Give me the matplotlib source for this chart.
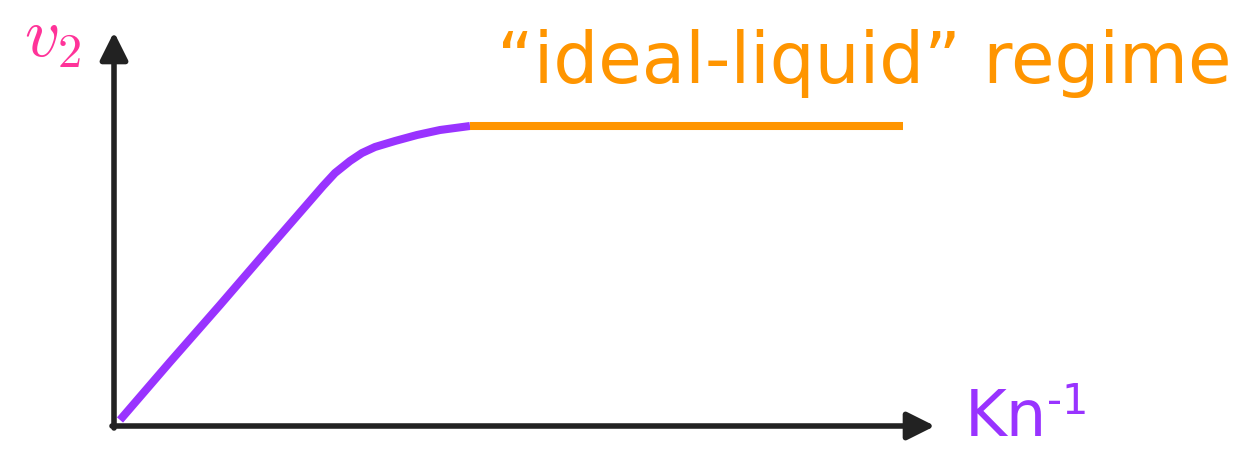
import matplotlib
matplotlib.use("Agg")
import matplotlib.pyplot as plt

# Curve data (x = Kn^-1, y = v2), arbitrary units
rise_x = [0.06, 0.56, 1.06, 1.56, 1.96, 2.09, 2.21, 2.36, 2.48, 2.61, 2.81, 3.03, 3.26, 3.56]
rise_y = [0.06, 0.64, 1.21, 1.79, 2.25, 2.40, 2.53, 2.65, 2.73, 2.79, 2.85, 2.91, 2.96, 3.00]
plateau_x = [3.56, 7.89]
plateau_y = [3.00, 3.00]

regime_label = "\u201cideal-liquid\u201d regime"
y_label = r"$v_2$"
x_label = "Kn"
x_label_sup = "-1"

PURPLE = "#9933ff"
ORANGE = "#ff9500"
PINK = "#ff3399"
AXIS = "#222222"

fig = plt.figure(figsize=(12.43, 4.5), dpi=100)
ax = fig.add_axes([0, 0, 1, 1])
ax.set_xlim(-1.14, 11.29)
ax.set_ylim(-0.24, 4.26)
ax.axis("off")

# axes arrows
ax.annotate("", xy=(0, 3.94), xytext=(0, -0.02),
            arrowprops=dict(arrowstyle="-|>", color=AXIS, lw=4,
                            mutation_scale=42, shrinkA=0, shrinkB=0))
ax.annotate("", xy=(8.21, 0), xytext=(-0.02, 0),
            arrowprops=dict(arrowstyle="-|>", color=AXIS, lw=4,
                            mutation_scale=42, shrinkA=0, shrinkB=0))

ax.plot(rise_x, rise_y, color=PURPLE, lw=5.8, solid_capstyle="butt",
        solid_joinstyle="round", zorder=3)
ax.plot(plateau_x, plateau_y, color=ORANGE, lw=5.8, solid_capstyle="butt", zorder=3)

ax.text(3.83, 3.43, regime_label, color=ORANGE, fontsize=51,
        family="DejaVu Sans", va="baseline", ha="left")
ax.text(-0.90, 3.70, y_label, color=PINK, fontsize=50, math_fontfamily="cm",
        va="baseline", ha="left")
ax.text(8.51, -0.232, x_label, color=PURPLE, fontsize=46, family="DejaVu Sans",
        va="bottom", ha="left")
ax.text(9.33, 0.12, x_label_sup, color=PURPLE, fontsize=30, family="DejaVu Sans",
        va="baseline", ha="left")

fig.savefig("out.png", dpi=100)
